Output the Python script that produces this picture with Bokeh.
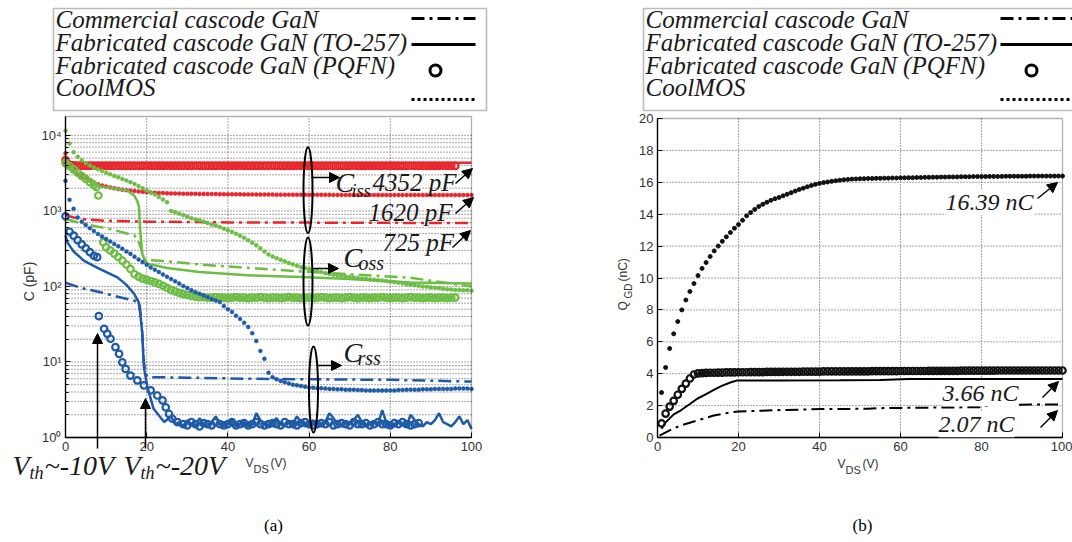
import math
from bokeh.plotting import figure
from bokeh.layouts import row
from bokeh.models import (Label, Arrow, NormalHead, FixedTicker, Range1d, LinearAxis, LogAxis,
                          BoxAnnotation)
from bokeh.embed import file_html
from bokeh.resources import INLINE

SERIF = "Liberation Serif"
SANS = "Liberation Sans"
RED = "#e8262c"
GREEN = "#6dbd45"
BLUE = "#1f5aa8"
INK = "#1a1a1a"
TICK_INK = "#333333"

LEGEND_NAMES = ["Commercial cascode GaN", "Fabricated cascode GaN (TO-257)",
                "Fabricated cascode GaN (PQFN)", "CoolMOS"]

# ---------------- panel (a): C vs VDS ----------------
VDS_A = list(range(0, 101))
X_TICKS = [0, 20, 40, 60, 80, 100]
C_MAX = 10 ** 4.25
LOG_MAJOR = [1, 10, 100, 1000, 10000]
LOG_LABELS = {1: "10\u2070", 10: "10\u00b9", 100: "10\u00b2", 1000: "10\u00b3", 10000: "10\u2074"}

# CoolMOS (dotted) sampled at VDS_A
CISS_COOL = [5800, 4300, 3400, 3100, 2900, 2700, 2520, 2380, 2260, 2170,
             2100, 2040, 1990, 1950, 1910, 1880, 1850, 1830, 1810, 1790,
             1770, 1750, 1740, 1730, 1720, 1710, 1705, 1700, 1695, 1690,
             1688, 1685, 1682, 1680, 1678, 1675, 1672, 1670, 1668, 1665,
             1663, 1660, 1658, 1656, 1654, 1652, 1650, 1648, 1646, 1645,
             1644, 1643, 1642, 1641, 1640, 1639, 1638, 1637, 1636, 1635,
             1634, 1633, 1632, 1632, 1631, 1631, 1630, 1630, 1629, 1629,
             1628, 1628, 1627, 1627, 1626, 1626, 1625, 1625, 1625, 1624,
             1624, 1624, 1623, 1623, 1623, 1622, 1622, 1622, 1622, 1621,
             1621, 1621, 1621, 1621, 1620, 1620, 1620, 1620, 1620, 1620, 1620]
COSS_COOL = [11500, 7800, 6000, 5200, 4700, 4300, 4000, 3750, 3550, 3380,
             3200, 3050, 2900, 2780, 2650, 2530, 2400, 2270, 2130, 2000,
             1870, 1760, 1650, 1530, 1420, 1300, 1000, 960, 920, 880,
             840, 800, 770, 750, 720, 690, 660, 640, 610, 580,
             555, 530, 500, 470, 440, 410, 380, 350, 320, 290,
             265, 250, 237, 225, 215, 205, 196, 188, 180, 175,
             170, 165, 160, 155, 150, 146, 143, 140, 137, 135,
             133, 131, 129, 127, 126, 124, 123, 121, 120, 118,
             116, 114, 112, 110, 107, 105, 104, 102, 100, 99,
             97, 96, 95, 93, 92, 91, 90, 90, 89, 89, 88]
CRSS_COOL = [2500, 1400, 1070, 820, 720, 650, 590, 540, 495, 460,
             425, 395, 365, 340, 315, 290, 270, 248, 228, 210,
             193, 178, 166, 155, 144, 134, 125, 117, 109, 101,
             95, 89, 84, 80, 76, 72, 68, 65, 62, 55,
             50, 46, 41, 37, 33, 29, 24, 19, 14, 11,
             7.2, 6.3, 5.9, 5.6, 5.4, 5.2, 5.0, 4.9, 4.8, 4.7,
             4.6, 4.55, 4.5, 4.5, 4.45, 4.4, 4.4, 4.35, 4.35, 4.3,
             4.3, 4.3, 4.25, 4.25, 4.2, 4.2, 4.2, 4.2, 4.2, 4.2,
             4.2, 4.2, 4.25, 4.25, 4.3, 4.3, 4.3, 4.3, 4.35, 4.35,
             4.35, 4.4, 4.4, 4.4, 4.4, 4.4, 4.45, 4.45, 4.45, 4.45, 4.4]

# Commercial cascode GaN (dash-dot) vertices
CISS_COM_X = [0, 2, 5, 10, 20, 40, 60, 80, 100]
CISS_COM_Y = [880, 820, 770, 740, 720, 705, 700, 695, 690]
COSS_COM_X = [0, 4, 8.6, 13, 16.9, 17.7, 18.5, 19.3, 20, 25, 33, 45.7, 58, 70, 85, 100]
COSS_COM_Y = [780, 680, 610, 540, 473, 430, 330, 230, 225, 215, 195, 175, 158, 145, 130, 100]
CRSS_COM_X = [0, 4, 8.6, 12, 16.9, 18.2, 18.8, 19.3, 19.8, 20.5, 30, 45, 60, 80, 100]
CRSS_COM_Y = [112, 95, 84, 75, 65, 60, 30, 10, 6.8, 6.3, 6.2, 6.0, 5.9, 5.8, 5.5]

# Fabricated TO-257 (solid) vertices
CISS_TO_X = [0, 1, 3, 100]
CISS_TO_Y = [4600, 4450, 4352, 4352]
COSS_TO_X = [0, 2, 4, 7.6, 10, 13, 15.2, 16.9, 17.7, 18.1, 18.4, 18.9, 19.5, 20.2, 25, 33, 45.7, 58, 70, 85, 100]
COSS_TO_Y = [4300, 3500, 2900, 2150, 2050, 1950, 1870, 1600, 1350, 1120, 550, 270, 225, 200, 175, 155, 140, 133, 125, 113, 109]
CRSS_TO_X = [0, 0.5, 2, 4.5, 8, 12.8, 15, 16.9, 18, 18.4, 18.9, 19.3, 20.2, 21.7, 24.3, 26, 27] + list(range(28, 101))
CRSS_TO_Y = [470, 380, 290, 220, 175, 132, 105, 80, 62, 45, 24, 8.5, 4.6, 2.4, 1.6, 1.9, 1.5,
             1.6, 1.4, 1.7, 1.5, 1.4, 1.8, 1.5, 1.4, 1.6, 1.9, 1.5, 1.4,
             1.5, 1.7, 1.4, 1.5, 1.6, 1.4, 1.5, 2.1, 1.7, 1.5, 1.4, 1.6,
             1.8, 1.5, 1.4, 1.6, 1.5, 1.9, 1.6, 1.4, 1.5, 1.7, 1.4, 1.5,
             1.6, 2.1, 1.8, 1.5, 1.4, 1.6, 1.5, 1.7, 2.0, 1.6, 1.4, 1.5,
             1.6, 1.5, 2.3, 1.6, 1.4, 1.5, 1.6, 1.5, 1.4, 2.0, 1.7, 1.5,
             1.4, 1.6, 1.5, 1.7, 2.1, 1.6, 1.5, 1.4, 1.6, 1.9, 1.5, 1.7, 1.3]

# Fabricated PQFN (circles)
CISS_PQ_X = list(range(0, 97))
CISS_PQ_Y = [4700, 4100, 3980, 3950, 3950, 3940, 3950, 3960, 3940, 3950,
             3950, 3940, 3950, 3960, 3950, 3940, 3950, 3950, 3940, 3950,
             3960, 3950, 3940, 3950, 3950, 3960, 3950, 3940, 3950, 3950,
             3940, 3950, 3960, 3950, 3950, 3940, 3950, 3950, 3960, 3950,
             3940, 3950, 3950, 3960, 3950, 3940, 3950, 3950, 3950, 3940,
             3950, 3960, 3950, 3950, 3940, 3950, 3950, 3960, 3950, 3940,
             3950, 3950, 3950, 3940, 3950, 3960, 3950, 3950, 3940, 3950,
             3950, 3960, 3950, 3940, 3950, 3950, 3950, 3940, 3950, 3960,
             3950, 3950, 3940, 3950, 3950, 3960, 3950, 3940, 3950, 3950,
             3950, 3940, 3950, 3960, 3950, 3950, 3940]
COSS_PQ_X = [0, 1, 2, 3, 4, 5, 6, 7, 7.6, 8.1, 9.3] + list(range(10, 97))
COSS_PQ_Y = [4300, 3900, 3550, 3200, 2900, 2650, 2400, 2200, 2070, 1600, 386,
             330, 300, 272, 245, 220, 195, 170, 145, 135, 127,
             122, 118, 113, 108, 102, 96, 90, 86, 82, 79,
             77, 75, 73, 72, 72, 71, 71, 72, 71, 71,
             70, 71, 72, 71, 71, 70, 71, 71, 72, 71,
             70, 71, 71, 70, 71, 72, 71, 71, 70, 71,
             71, 70, 71, 72, 71, 70, 71, 71, 70, 71,
             72, 71, 70, 71, 71, 70, 71, 71, 72, 71,
             70, 71, 71, 70, 71, 72, 71, 71, 70, 71, 71, 70, 71, 71, 70, 71, 71]
CRSS_PQ_X = [0, 1, 2, 3, 4, 5, 6, 7, 7.8, 8.2, 9.5, 10.3, 11.1, 12.3, 13.2, 14, 14.8, 16,
             17.7, 19.3, 21, 22.6, 23.9, 24.7, 25.5, 26.3, 27.6] + list(range(29, 98))
CRSS_PQ_Y = [850, 530, 470, 410, 360, 320, 285, 255, 244, 40.4, 27.5, 23.6, 20.3, 15.7, 12.8, 9.9, 8.1, 6.6,
             5.7, 4.9, 4.2, 3.6, 3.1, 2.5, 2.05, 1.77, 1.6,
             1.5, 1.45, 1.6, 1.5, 1.4, 1.55, 1.5, 1.45, 1.6, 1.5,
             1.45, 1.5, 1.6, 1.45, 1.5, 1.55, 1.45, 1.5, 1.6, 1.5,
             1.45, 1.5, 1.55, 1.5, 1.45, 1.6, 1.5, 1.5, 1.45, 1.55,
             1.6, 1.5, 1.45, 1.5, 1.55, 1.5, 1.6, 1.45, 1.5, 1.55,
             1.5, 1.45, 1.6, 1.5, 1.5, 1.55, 1.45, 1.5, 1.6, 1.5,
             1.5, 1.45, 1.55, 1.5, 1.6, 1.5, 1.45, 1.5, 1.55]

# ---------------- panel (b): QGD vs VDS ----------------
VDS_B = list(range(1, 101))
Q_MAX = 20
Y_TICKS_B = list(range(0, 21, 2))
QGD_COOL = [2.82, 4.39, 5.58, 6.5, 7.27, 8.0, 8.62, 9.15, 9.65, 10.15,
            10.6, 10.97, 11.35, 11.7, 12.0, 12.3, 12.58, 12.85, 13.12, 13.35,
            13.62, 13.9, 14.1, 14.3, 14.48, 14.62, 14.75, 14.87, 14.97, 15.05,
            15.15, 15.25, 15.35, 15.45, 15.55, 15.63, 15.72, 15.8, 15.87, 15.93,
            15.98, 16.02, 16.06, 16.1, 16.13, 16.16, 16.18, 16.2, 16.21, 16.22,
            16.23, 16.24, 16.24, 16.25, 16.25, 16.26, 16.26, 16.27, 16.27, 16.28,
            16.28, 16.29, 16.29, 16.3, 16.3, 16.31, 16.31, 16.32, 16.32, 16.33,
            16.33, 16.34, 16.34, 16.34, 16.35, 16.35, 16.35, 16.36, 16.36, 16.36,
            16.36, 16.37, 16.37, 16.37, 16.37, 16.38, 16.38, 16.38, 16.38, 16.38,
            16.38, 16.39, 16.39, 16.39, 16.39, 16.39, 16.39, 16.39, 16.39, 16.39]
QGD_PQ = [0.88, 1.5, 1.94, 2.3, 2.68, 3.05, 3.38, 3.7, 3.95, 4.02,
          4.04, 4.05, 4.06, 4.06, 4.07, 4.07, 4.08, 4.08, 4.08, 4.09,
          4.09, 4.09, 4.1, 4.1, 4.1, 4.1, 4.11, 4.11, 4.11, 4.11,
          4.12, 4.12, 4.12, 4.12, 4.12, 4.13, 4.13, 4.13, 4.13, 4.13,
          4.14, 4.14, 4.14, 4.14, 4.14, 4.14, 4.15, 4.15, 4.15, 4.15,
          4.15, 4.15, 4.16, 4.16, 4.16, 4.16, 4.16, 4.16, 4.16, 4.17,
          4.17, 4.17, 4.17, 4.17, 4.17, 4.17, 4.18, 4.18, 4.18, 4.18,
          4.18, 4.18, 4.18, 4.18, 4.19, 4.19, 4.19, 4.19, 4.19, 4.19,
          4.19, 4.19, 4.19, 4.2, 4.2, 4.2, 4.2, 4.2, 4.2, 4.2,
          4.2, 4.2, 4.2, 4.2, 4.2, 4.2, 4.2, 4.2, 4.2, 4.2]
QGD_TO_X = [1, 2, 4, 5.7, 8, 9.8, 12, 13.9, 16, 18, 19.7, 30, 45, 55, 62, 100]
QGD_TO_Y = [0.55, 0.95, 1.45, 1.69, 2.1, 2.43, 2.72, 2.99, 3.25, 3.45, 3.58, 3.58, 3.59, 3.6, 3.66, 3.66]
QGD_COM_X = [0.5, 3, 5.7, 10, 13.9, 18, 20, 30.5, 40, 52, 55, 62, 80, 82, 100]
QGD_COM_Y = [0.12, 0.45, 0.75, 1.08, 1.38, 1.57, 1.63, 1.72, 1.78, 1.8, 1.84, 1.86, 1.9, 2.05, 2.07]

DASHDOT = "13 5 3 5"
GRID_KW = dict(line_color="#222222", line_width=0.8, line_dash="1 2")

# pixel <-> data mapping of the two panels (whole canvas is the frame)
AX0, AX1, AY_DEC, AY0 = 65, 4.06, 75.53, 437
BX0, BX1, BY_UNIT, BY0 = 657, 4.05, 15.95, 437
PANEL_B_LEFT = 560
HEIGHT = 542
MID = 0.34  # distance from baseline to the visual middle of a line of text, in em


def pa(xp, yp):
    return (xp - AX0) / AX1, 10 ** ((AY0 - yp) / AY_DEC)


def pb(xp, yp):
    return (xp - BX0) / BX1, (BY0 - yp) / BY_UNIT


def lab(p, conv, xp, yp, text, size, font=SERIF, style="italic", align="left",
        baseline="alphabetic", angle=0.0, bg=None, color=INK):
    # positions are given for the baseline; place them via the text's middle
    if baseline == "alphabetic":
        if angle:
            xp = xp - MID * size
        else:
            yp = yp - MID * size
    x, y = conv(xp, yp)
    kw = {}
    if bg is not None:
        kw["background_fill_color"] = bg
    p.add_layout(Label(x=x, y=y, text=text, text_font=font, text_font_size=f"{size}px",
                       text_font_style=style, text_align=align, text_baseline="middle",
                       angle=angle, text_color=color, **kw))


def arrow(p, conv, p0, p1, size=10, width=1.5):
    x0, y0 = conv(*p0)
    x1, y1 = conv(*p1)
    p.add_layout(Arrow(end=NormalHead(size=size, fill_color="black", line_color="black"),
                       x_start=x0, y_start=y0, x_end=x1, y_end=y1,
                       line_color="black", line_width=width))


def style_axis(ax):
    ax.axis_line_color = "black"
    ax.axis_line_width = 1.3
    ax.major_tick_in = 5
    ax.major_tick_out = 0
    ax.minor_tick_in = 3
    ax.minor_tick_out = 0
    ax.major_tick_line_color = "black"
    ax.minor_tick_line_color = "black"
    ax.major_label_text_font = SANS
    ax.major_label_text_font_size = "13px"
    ax.major_label_text_color = TICK_INK
    ax.major_label_standoff = 4


def legend(p, conv, box, glyph_x0, glyph_x1, circle_x):
    left, right = box
    l, t = conv(left, 8)
    r, b = conv(right, 110)
    p.add_layout(BoxAnnotation(left=l, right=r, top=t, bottom=b, fill_color=None,
                               line_color="#222222", line_width=1.6))
    for name, base in zip(LEGEND_NAMES, (27, 50, 73, 95)):
        lab(p, conv, left + 2, base, name, 25)
    for ypix, dash in ((18, DASHDOT), (44, "solid"), (99, "3 3")):
        xa, ya = conv(glyph_x0, ypix)
        xb, _ = conv(glyph_x1, ypix)
        p.line([xa, xb], [ya, ya], line_color="black", line_width=3, line_dash=dash)
    cx, cy = conv(circle_x, 70)
    p.scatter([cx], [cy], marker="circle", size=11, fill_color=None, line_color="black", line_width=3)


# ================= panel (a) =================
xa0, ya_top = pa(0, 0)
xa1, ya_bot = pa(PANEL_B_LEFT, HEIGHT)
fa = figure(width=PANEL_B_LEFT, height=HEIGHT, x_range=Range1d(xa0, xa1), y_range=Range1d(ya_bot, ya_top),
            y_axis_type="log", x_axis_location=None, y_axis_location=None,
            min_border=0, toolbar_location=None, output_backend="svg")
fa.outline_line_color = None
fa.grid.visible = False

YGRID_A = [m * 10 ** k for k in range(0, 5) for m in range(1, 10) if m * 10 ** k <= C_MAX]
XGRID = [20, 40, 60, 80]
fa.segment(x0=[0] * len(YGRID_A), y0=YGRID_A, x1=[100] * len(YGRID_A), y1=YGRID_A, **GRID_KW)
fa.segment(x0=XGRID, y0=[1] * len(XGRID), x1=XGRID, y1=[C_MAX] * len(XGRID), **GRID_KW)

for col, cool, cx, cy, tx, ty, qx, qy in (
        (RED, CISS_COOL, CISS_COM_X, CISS_COM_Y, CISS_TO_X, CISS_TO_Y, CISS_PQ_X, CISS_PQ_Y),
        (GREEN, COSS_COOL, COSS_COM_X, COSS_COM_Y, COSS_TO_X, COSS_TO_Y, COSS_PQ_X, COSS_PQ_Y),
        (BLUE, CRSS_COOL, CRSS_COM_X, CRSS_COM_Y, CRSS_TO_X, CRSS_TO_Y, CRSS_PQ_X, CRSS_PQ_Y)):
    fa.scatter(qx, qy, marker="circle", size=6.5, fill_color=None, line_color=col, line_width=2.2)
    fa.line(tx, ty, line_color=col, line_width=2.5)
    fa.line(cx, cy, line_color=col, line_width=2.5, line_dash=DASHDOT)
    fa.scatter(VDS_A, cool, marker="circle", size=4, fill_color=col, line_color=col, line_width=0.5)

xax = LinearAxis(fixed_location=1, bounds=(0, 100), ticker=FixedTicker(ticks=X_TICKS))
style_axis(xax)
fa.add_layout(xax, "below")
yminor_a = [v for v in YGRID_A if v not in LOG_MAJOR]
yax = LogAxis(fixed_location=0, bounds=(1, C_MAX), ticker=FixedTicker(ticks=LOG_MAJOR, minor_ticks=yminor_a))
style_axis(yax)
yax.major_label_overrides = LOG_LABELS
fa.add_layout(yax, "left")
fa.add_layout(BoxAnnotation(left=0, right=100, bottom=1, top=C_MAX, fill_color=None,
                            line_color="black", line_width=1.3))

# ellipses and arrows
for (xp, yp, h) in ((307.5, 189.7, 86), (307.5, 281, 88), (313, 389, 86)):
    ex, ey = pa(xp, yp)
    fa.ellipse(x=[ex], y=[ey], width=9, height=h, width_units="screen", height_units="screen",
               fill_color=None, line_color="black", line_width=2)
arrow(fa, pa, (311, 177), (339, 177))
arrow(fa, pa, (313, 268), (338, 268))
arrow(fa, pa, (317, 365), (341, 365))
arrow(fa, pa, (455, 183), (472, 168))
arrow(fa, pa, (455, 213), (473, 197))
arrow(fa, pa, (452, 247), (470, 230))
arrow(fa, pa, (97, 448), (97, 333))
arrow(fa, pa, (145, 448), (145, 398))

lab(fa, pa, 335, 192, "C", 28)
lab(fa, pa, 351, 197, "iss", 18)
lab(fa, pa, 372, 190, "4352 pF", 25)
lab(fa, pa, 368, 220, "1620 pF", 25)
lab(fa, pa, 382, 250, "725 pF", 25)
lab(fa, pa, 343, 267, "C", 28)
lab(fa, pa, 358, 269, "oss", 20)
lab(fa, pa, 343, 362, "C", 28)
lab(fa, pa, 357, 364, "rss", 20)
lab(fa, pa, 12, 475, "V", 28)
lab(fa, pa, 29, 479, "th", 18)
lab(fa, pa, 44, 475, "~-10V", 28)
lab(fa, pa, 123, 475, "V", 28)
lab(fa, pa, 140, 479, "th", 18)
lab(fa, pa, 155, 475, "~-20V", 28)
lab(fa, pa, 245, 467, "V", 12, font=SANS, style="normal", color=TICK_INK)
lab(fa, pa, 253, 472, "DS", 11, font=SANS, style="normal", color=TICK_INK)
lab(fa, pa, 270, 467, "(V)", 12, font=SANS, style="normal", color=TICK_INK)
lab(fa, pa, 33, 281, "C (pF)", 14, font=SANS, style="normal", align="center", angle=math.pi / 2, color=TICK_INK)
lab(fa, pa, 273, 525, "(a)", 17, style="normal", align="center", baseline="middle", color="black")
legend(fa, pa, (53, 486), 411, 475, 435)

# ================= panel (b) =================
xb0, yb_top = pb(PANEL_B_LEFT, 0)
xb1, yb_bot = pb(PANEL_B_LEFT + 512, HEIGHT)
fb = figure(width=512, height=HEIGHT, x_range=Range1d(xb0, xb1), y_range=Range1d(yb_bot, yb_top),
            x_axis_location=None, y_axis_location=None, min_border=0,
            toolbar_location=None, output_backend="svg")
fb.outline_line_color = None
fb.grid.visible = False

YGRID_B = Y_TICKS_B[1:-1]
fb.segment(x0=[0] * len(YGRID_B), y0=YGRID_B, x1=[100] * len(YGRID_B), y1=YGRID_B, **GRID_KW)
fb.segment(x0=XGRID, y0=[0] * len(XGRID), x1=XGRID, y1=[Q_MAX] * len(XGRID), **GRID_KW)

fb.line(QGD_COM_X, QGD_COM_Y, line_color="black", line_width=2, line_dash=DASHDOT)
fb.line(QGD_TO_X, QGD_TO_Y, line_color="black", line_width=2)
fb.scatter(VDS_B, QGD_PQ, marker="circle", size=6.5, fill_color=None, line_color="#111111", line_width=2.2)
fb.scatter(VDS_B, QGD_COOL, marker="circle", size=4, fill_color="#111111", line_color="#111111")

xbx = LinearAxis(fixed_location=0, bounds=(0, 100), ticker=FixedTicker(ticks=X_TICKS))
style_axis(xbx)
fb.add_layout(xbx, "below")
ybx = LinearAxis(fixed_location=0, bounds=(0, Q_MAX), ticker=FixedTicker(ticks=Y_TICKS_B))
style_axis(ybx)
fb.add_layout(ybx, "left")
fb.add_layout(BoxAnnotation(left=0, right=100, bottom=0, top=Q_MAX, fill_color=None,
                            line_color="black", line_width=1.3))

lab(fb, pb, 945, 210, "16.39 nC", 24, bg="white")
lab(fb, pb, 942, 401, "3.66 nC", 24, bg="white")
lab(fb, pb, 938, 432, "2.07 nC", 24, bg="white")
arrow(fb, pb, (1037, 198), (1057, 182))
arrow(fb, pb, (1042, 397), (1058, 381))
arrow(fb, pb, (1040, 427), (1057, 410))
lab(fb, pb, 837, 468, "V", 12, font=SANS, style="normal", color=TICK_INK)
lab(fb, pb, 845, 473, "DS", 11, font=SANS, style="normal", color=TICK_INK)
lab(fb, pb, 862, 468, "(V)", 12, font=SANS, style="normal", color=TICK_INK)
lab(fb, pb, 627, 310, "Q", 12, font=SANS, style="normal", angle=math.pi / 2, color=TICK_INK)
lab(fb, pb, 631, 298, "GD", 10, font=SANS, style="normal", angle=math.pi / 2, color=TICK_INK)
lab(fb, pb, 627, 281, "(nC)", 12, font=SANS, style="normal", angle=math.pi / 2, color=TICK_INK)
lab(fb, pb, 862, 525, "(b)", 17, style="normal", align="center", baseline="middle", color="black")
legend(fb, pb, (643, 1075), 1000, 1072, 1031)

layout = row(fa, fb)
open("out.html", "w").write(file_html(layout, INLINE))
